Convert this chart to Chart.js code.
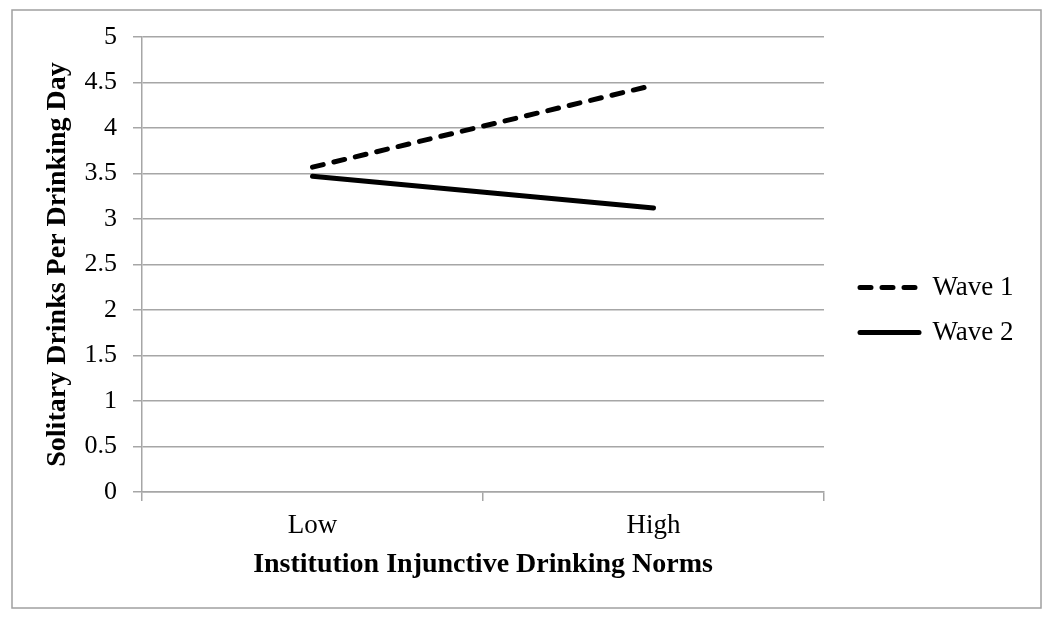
<!DOCTYPE html>
<html>
<head>
<meta charset="utf-8">
<script src="https://cdn.jsdelivr.net/npm/chart.js@4/dist/chart.umd.min.js"></script>
<style>
  html, body { margin: 0; padding: 0; background: #fff; }
  canvas { display: block; }
</style>
</head>
<body>
<canvas id="c" width="1050" height="620"></canvas>
<script>
const categories = ['Low', 'High'];
const seriesNames = ['Wave 1', 'Wave 2'];
const wave1 = [3.57, 4.47];
const wave2 = [3.47, 3.12];
const seriesDash = [[11, 11], []];
const yMin = 0, yMax = 5, yStep = 0.5;
const xTitle = 'Institution Injunctive Drinking Norms';
const yTitle = 'Solitary Drinks Per Drinking Day';

const FONT = "'Liberation Serif', 'Times New Roman', serif";
const GRID = '#a6a6a6';
Chart.defaults.color = '#000';
Chart.defaults.font.family = FONT;

const layoutPlugin = {
  id: 'layoutTweak',
  beforeLayout(chart) {
    const lg = chart.legend;
    if (lg && !lg._wrapped) {
      const f = lg.fit.bind(lg);
      lg.fit = function () { f(); this.width = 1050 - 824; };
      lg._wrapped = true;
    }
  },
  afterLayout(chart) {
    const lg = chart.legend;
    if (lg) {
      const w = lg.width;
      lg.left = 842; lg.right = 842 + w;
      lg.top = 0; lg.bottom = 620; lg.height = 620;
    }
  },
  beforeDraw(chart) {
    const ctx = chart.ctx;
    ctx.save();
    ctx.fillStyle = '#fff';
    ctx.fillRect(0, 0, chart.width, chart.height);
    ctx.strokeStyle = '#a0a0a0';
    ctx.lineWidth = 1.5;
    ctx.strokeRect(12, 10, 1029, 598);
    ctx.restore();
  }
};

function makeDataset(i, values) {
  return {
    label: seriesNames[i],
    data: values,
    borderColor: '#000',
    backgroundColor: '#000',
    borderWidth: 5,
    borderDash: seriesDash[i],
    borderCapStyle: 'round',
    pointRadius: 0,
    tension: 0,
    fill: false
  };
}

new Chart(document.getElementById('c'), {
  type: 'line',
  data: {
    labels: categories,
    datasets: [makeDataset(0, wave1), makeDataset(1, wave2)]
  },
  options: {
    responsive: false,
    animation: false,
    devicePixelRatio: 1,
    layout: { padding: { left: 0, top: 37, right: 0, bottom: 0 } },
    plugins: {
      legend: {
        position: 'right',
        align: 'center',
        labels: {
          font: { size: 27, family: FONT },
          color: '#000',
          usePointStyle: true,
          pointStyle: 'line',
          pointStyleWidth: 59,
          padding: 18,
          generateLabels(chart) {
            return chart.data.datasets.map((ds, i) => ({
              text: ds.label,
              datasetIndex: i,
              fillStyle: ds.borderColor,
              strokeStyle: ds.borderColor,
              fontColor: '#000',
              lineWidth: ds.borderWidth,
              lineDash: ds.borderDash,
              lineDashOffset: 0,
              lineCap: ds.borderCapStyle,
              pointStyle: 'line',
              hidden: false,
              rotation: 0
            }));
          }
        }
      },
      tooltip: { enabled: false },
      title: { display: false }
    },
    scales: {
      x: {
        type: 'category',
        offset: true,
        grid: {
          offset: true,
          drawOnChartArea: false,
          color: GRID,
          lineWidth: 1.5,
          tickLength: 9
        },
        border: { display: true, color: GRID, width: 1.5 },
        ticks: {
          font: { size: 27, family: FONT },
          color: '#000',
          padding: 9,
          maxRotation: 0
        },
        title: {
          display: true,
          text: xTitle,
          font: { size: 28, weight: 'bold', family: FONT },
          color: '#000',
          padding: { top: 4, bottom: 38 }
        },
        afterFit(scale) { scale.height = 128; }
      },
      y: {
        min: yMin,
        max: yMax,
        grid: {
          color: GRID,
          lineWidth: 1.5,
          tickLength: 9
        },
        border: { display: true, color: GRID, width: 1.5 },
        ticks: {
          stepSize: yStep,
          font: { size: 26, family: FONT },
          color: '#000',
          padding: 16,
          callback: (v) => String(Math.round(v * 10) / 10)
        },
        title: {
          display: true,
          text: yTitle,
          font: { size: 28, weight: 'bold', family: FONT },
          color: '#000',
          padding: { top: 41, bottom: 0 }
        },
        afterFit(scale) { scale.width = 142; }
      }
    }
  },
  plugins: [layoutPlugin]
});
</script>
</body>
</html>
